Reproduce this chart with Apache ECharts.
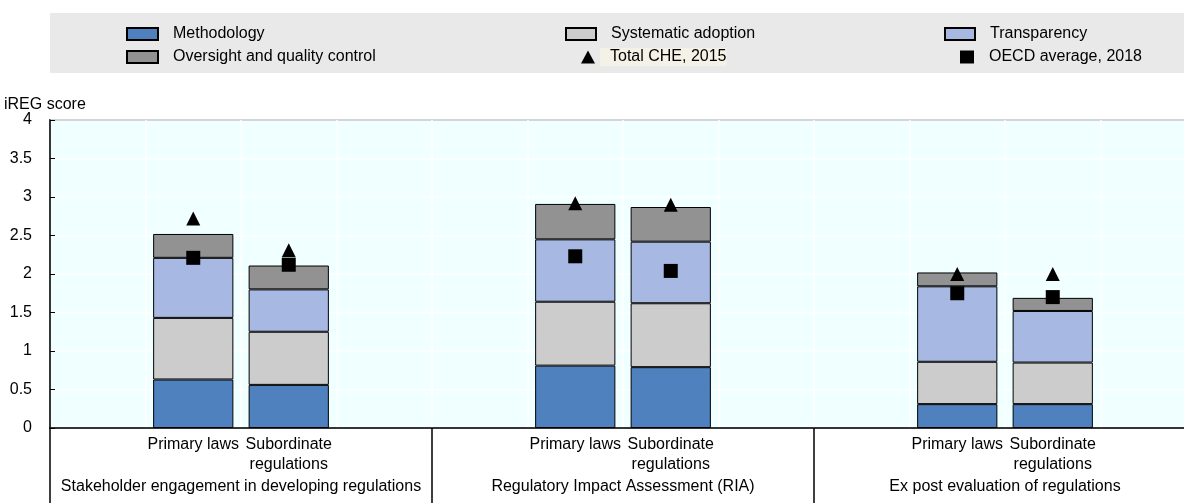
<!DOCTYPE html>
<html>
<head>
<meta charset="utf-8">
<script src="https://cdn.jsdelivr.net/npm/echarts@6/dist/echarts.min.js"></script>
<style>
  html, body { margin: 0; padding: 0; background: #fff; }
  #main { width: 1184px; height: 503px; }
</style>
</head>
<body>
<div id="main"></div>
<script>
// groups on the outer axis, two bar types inside each group
var groups = ['Stakeholder engagement in developing regulations', 'Regulatory Impact Assessment (RIA)', 'Ex post evaluation of regulations'];
var types = ['Primary laws', 'Subordinate\nregulations'];

// values per bar, in order: group1 primary, group1 subordinate, group2 ..., group3 ...
var methodology = [0.63, 0.56, 0.81, 0.79, 0.31, 0.31];
var systematicAdoption = [0.80, 0.69, 0.83, 0.83, 0.55, 0.54];
var transparency = [0.78, 0.55, 0.81, 0.80, 0.98, 0.67];
var oversight = [0.31, 0.31, 0.46, 0.45, 0.18, 0.17];
var totalChe2015 = [2.72, 2.31, 2.92, 2.90, 2.00, 2.00];
var oecdAverage2018 = [2.21, 2.12, 2.23, 2.04, 1.75, 1.70];

var yTicks = [0, 0.5, 1, 1.5, 2, 2.5, 3, 3.5, 4];

(function () {
    var FONT = 'Liberation Sans, Arial, sans-serif';

    // each group gets an empty slot on both sides: '', Primary, Subordinate, ''
    var categories = [];
    groups.forEach(function () {
        categories.push('', types[0], types[1], '');
    });
    function spread(values) {
        var out = [];
        for (var g = 0; g < groups.length; g++) {
            out.push('-', values[g * 2], values[g * 2 + 1], '-');
        }
        return out;
    }

    function barSeries(name, values, color) {
        return {
            name: name,
            type: 'bar',
            stack: 'score',
            barCategoryGap: '16%',
            data: spread(values),
            itemStyle: { color: color, borderColor: '#000', borderWidth: 1 },
            emphasis: { disabled: true }
        };
    }

    function legendItem(name, left, top, w, h, icon, extra) {
        var lg = {
            data: [{ name: name, icon: icon }],
            left: left,
            top: top,
            padding: 0,
            itemWidth: w,
            itemHeight: h,
            selectedMode: false,
            textStyle: { fontFamily: FONT, fontSize: 16, color: '#000', lineHeight: 18, padding: [0, 0, 0, 10] }
        };
        if (extra) {
            Object.assign(lg.textStyle, extra);
        }
        return lg;
    }

    var myChart = echarts.init(document.getElementById('main'), null, { renderer: 'canvas' });

    var option = {
        backgroundColor: '#fff',
        animation: false,
        title: {
            text: 'iREG score',
            left: 4,
            top: 97,
            padding: 0,
            textStyle: { fontFamily: FONT, fontSize: 16, fontWeight: 'normal', color: '#000' }
        },
        graphic: [{
            type: 'rect',
            z: -10,
            shape: { x: 50, y: 13, width: 1134, height: 60 },
            style: { fill: '#e9e9e9' }
        }],
        legend: [
            legendItem('Methodology', 126, 25, 31, 12, 'rect'),
            legendItem('Oversight and quality control', 126, 48, 31, 12, 'rect'),
            legendItem('Systematic adoption', 565, 25, 30, 12, 'rect'),
            legendItem('Total CHE, 2015', 581, 48, 14, 13, 'triangle', { backgroundColor: '#f4f2e6' }),
            legendItem('Transparency', 944, 25, 30, 12, 'rect'),
            legendItem('OECD average, 2018', 960, 48, 14, 13, 'rect')
        ],
        // plot runs past the right edge of the picture, as in the source
        grid: {
            left: 50,
            width: 1146,
            top: 120,
            bottom: 75,
            containLabel: false,
            outerBoundsMode: 'none',
            show: true,
            backgroundColor: '#f0ffff',
            borderColor: '#222',
            borderWidth: 1.5
        },
        xAxis: [{
            type: 'category',
            data: categories,
            axisLine: { lineStyle: { color: '#000', width: 1.5 } },
            axisTick: { show: false },
            splitLine: { show: true, interval: 0, lineStyle: { color: '#fff', width: 1.5 } },
            axisLabel: {
                interval: 0,
                margin: 7,
                fontFamily: FONT,
                fontSize: 16,
                lineHeight: 20,
                color: '#000'
            }
        }, {
            type: 'category',
            data: groups,
            position: 'bottom',
            axisLine: { show: false },
            axisTick: { show: true, interval: 0, length: 80, lineStyle: { color: '#000', width: 1.5 } },
            axisLabel: {
                interval: 0,
                margin: 49,
                fontFamily: FONT,
                fontSize: 16,
                lineHeight: 20,
                color: '#000'
            }
        }],
        yAxis: {
            type: 'value',
            min: yTicks[0],
            max: yTicks[yTicks.length - 1],
            interval: 0.5,
            axisLine: { show: true, lineStyle: { color: '#000', width: 1.5 } },
            axisTick: { show: true, inside: true, length: 5, lineStyle: { color: '#000' } },
            splitLine: { show: true, lineStyle: { color: '#fff', width: 1.5 } },
            axisLabel: { margin: 18, fontFamily: FONT, fontSize: 16, color: '#000' }
        },
        series: [
            barSeries('Methodology', methodology, '#4e81bd'),
            barSeries('Systematic adoption', systematicAdoption, '#cccccc'),
            barSeries('Transparency', transparency, '#a7b9e3'),
            barSeries('Oversight and quality control', oversight, '#929292'),
            {
                name: 'Total CHE, 2015',
                type: 'scatter',
                symbol: 'triangle',
                symbolSize: 14,
                z: 5,
                data: spread(totalChe2015),
                itemStyle: { color: '#000', opacity: 1 }
            },
            {
                name: 'OECD average, 2018',
                type: 'scatter',
                symbol: 'rect',
                symbolSize: 14,
                z: 5,
                data: spread(oecdAverage2018),
                itemStyle: { color: '#000', opacity: 1 }
            }
        ]
    };

    myChart.setOption(option);
}());
</script>
</body>
</html>
